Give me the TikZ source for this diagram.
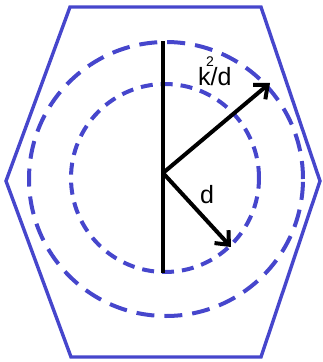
\documentclass[tikz,border=0pt]{standalone}
\usepackage{fontspec}
\setmainfont{Liberation Sans}
\usetikzlibrary{arrows.meta}
\definecolor{rim}{HTML}{4646CC}
\definecolor{ink}{HTML}{000000}

\begin{document}
\begin{tikzpicture}[x=1pt,y=-1pt,
  hexline/.style={draw=rim,line width=3.4pt,line join=miter},
  outerring/.style={draw=rim,line width=4pt,dash pattern=on 18pt off 10pt},
  innerring/.style={draw=rim,line width=4pt,dash pattern=on 12pt off 8pt},
  axis/.style={draw=ink,line width=4.4pt},
  ray/.style={draw=ink,line width=4pt,-{Straight Barb[length=11pt,width=19pt]}},
  lbl/.style={text=ink,inner sep=0pt,anchor=base west,font=\fontsize{25}{25}\selectfont}
]
\useasboundingbox (0,0) rectangle (323,362);
% hexagon outline
\draw[hexline] (70,7) -- (261,7) -- (320,181) -- (261,357) -- (71,357) -- (6,181) -- cycle;
% the two rings
\draw[outerring] (166,179) circle[radius=137pt];
\draw[innerring] (165,178) circle[radius=94pt];
% points
\coordinate (c) at (163,173);
\coordinate (top) at (163,41);
\coordinate (bot) at (163,273);
\coordinate (far) at (270,83);
\coordinate (near) at (231,247);
\draw[axis] (top) -- (bot);
\draw[ray] (c) -- (far);
\draw[ray] (c) -- (near);
\node[lbl] (kd) at (198,85)
  {\makebox[0pt][l]{\hspace{8pt}\raisebox{19pt}{\fontsize{14}{14}\selectfont 2}}k/d};
\node[lbl] (d) at (200,203) {d};
\end{tikzpicture}
\end{document}
